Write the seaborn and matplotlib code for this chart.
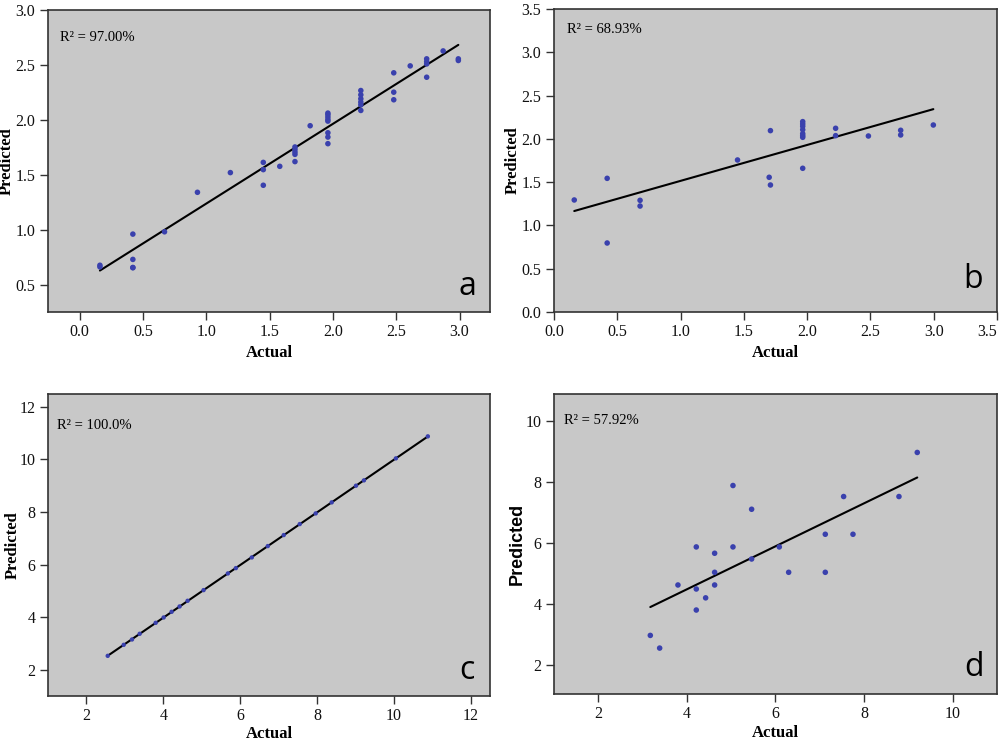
import numpy as np
import pandas as pd
import matplotlib
matplotlib.use("Agg")
import matplotlib.pyplot as plt
import seaborn as sns

# ---- data ----
a_actual = [0.16, 0.16, 0.42, 0.42, 0.42, 0.42, 0.67, 0.93, 1.19, 1.45, 1.45, 1.45, 1.58,
            1.70, 1.70, 1.70, 1.70, 1.70, 1.82, 1.96, 1.96, 1.96, 1.96, 1.96, 1.96, 1.96, 1.96,
            2.22, 2.22, 2.22, 2.22, 2.22, 2.22, 2.48, 2.48, 2.48, 2.61, 2.74, 2.74, 2.74, 2.74,
            2.87, 2.99, 2.99]
a_pred = [0.68, 0.665, 0.963, 0.733, 0.657, 0.66, 0.984, 1.343, 1.522, 1.615, 1.549, 1.407, 1.579,
          1.755, 1.733, 1.709, 1.688, 1.622, 1.948, 2.063, 2.048, 2.027, 2.005, 1.99, 1.884, 1.845, 1.785,
          2.268, 2.229, 2.193, 2.163, 2.138, 2.087, 2.429, 2.253, 2.184, 2.492, 2.556, 2.531, 2.51, 2.389,
          2.628, 2.556, 2.541]

b_actual = [0.16, 0.42, 0.42, 0.68, 0.68, 1.45, 1.71, 1.70, 1.71, 1.965, 1.965, 1.965, 1.965,
            1.965, 1.965, 1.965, 1.965, 2.225, 2.225, 2.484, 2.739, 2.739, 2.997]
b_pred = [1.294, 1.544, 0.797, 1.290, 1.224, 1.756, 2.095, 1.556, 1.467, 2.199, 2.172, 2.145, 2.106,
          2.06, 2.037, 2.018, 1.66, 2.122, 2.037, 2.033, 2.099, 2.045, 2.160]

c_actual = [2.554, 2.970, 3.186, 3.385, 3.801, 4.009, 4.216, 4.424, 4.632, 5.048, 5.680, 5.888,
            6.303, 6.719, 7.134, 7.550, 7.965, 8.381, 9.013, 9.221, 10.052, 10.883]
c_pred = [2.544, 2.962, 3.165, 3.38, 3.797, 4.0, 4.215, 4.418, 4.633, 5.038, 5.671, 5.873,
          6.278, 6.709, 7.127, 7.544, 7.949, 8.367, 9.0, 9.203, 10.038, 10.873]

d_actual = [3.174, 3.385, 3.798, 4.212, 4.212, 4.212, 4.423, 4.626, 4.626, 4.626, 5.04, 5.04,
            5.461, 5.461, 6.086, 6.297, 7.124, 7.124, 7.538, 7.749, 8.787, 9.20]
d_pred = [2.966, 2.549, 4.623, 5.874, 4.491, 3.80, 4.20, 5.666, 5.04, 4.623, 7.892, 5.874,
          7.112, 5.477, 5.874, 5.04, 6.29, 5.04, 7.53, 6.29, 7.53, 8.979]

r2_labels = ["R\u00b2 = 97.00%", "R\u00b2 = 68.93%", "R\u00b2 = 100.0%", "R\u00b2 = 57.92%"]
panel_letters = ["a", "b", "c", "d"]

a_xticks = [0.0, 0.5, 1.0, 1.5, 2.0, 2.5, 3.0]
a_yticks = [0.5, 1.0, 1.5, 2.0, 2.5, 3.0]
b_ticks = [0.0, 0.5, 1.0, 1.5, 2.0, 2.5, 3.0, 3.5]
c_ticks = [2, 4, 6, 8, 10, 12]
d_ticks = [2, 4, 6, 8, 10]

# ---- style ----
sns.set_theme(style="ticks")
plt.rcParams["font.family"] = ["Liberation Serif", "DejaVu Serif"]
plt.rcParams["text.color"] = "black"
plt.rcParams["axes.labelcolor"] = "black"
plt.rcParams["xtick.labelcolor"] = "#111111"
plt.rcParams["ytick.labelcolor"] = "#111111"

BG = "#c8c8c8"
PT = "#3a41ad"
SERIF = "Liberation Serif"

fig = plt.figure(figsize=(10.04, 7.42), dpi=100)

W, H = 1004.0, 742.0
def box(x0, y0, x1, y1):
    return [x0 / W, 1 - y1 / H, (x1 - x0) / W, (y1 - y0) / H]

axa = fig.add_axes(box(48, 10, 490, 312))
axb = fig.add_axes(box(554, 9, 997, 312))
axc = fig.add_axes(box(48, 394, 490, 696))
axd = fig.add_axes(box(554, 394, 997, 694))

panels = [
    (axa, a_actual, a_pred, (-0.25, 3.24), (0.255, 3.0), a_xticks, a_yticks, "{:.1f}", 16),
    (axb, b_actual, b_pred, (0.0, 3.5), (0.0, 3.5), b_ticks, b_ticks, "{:.1f}", 16),
    (axc, c_actual, c_pred, (1.0, 12.5), (1.02, 12.48), c_ticks, c_ticks, "{:d}", 10),
    (axd, d_actual, d_pred, (1.0, 11.0), (1.04, 10.9), d_ticks, d_ticks, "{:d}", 16),
]

txt_pos = [(0.027, 0.91), (0.029, 0.932), (0.021, 0.897), (0.023, 0.91)]
let_pos = [(0.948, 0.083), (0.946, 0.107), (0.947, 0.086), (0.949, 0.088)]
ylab_x = [-0.093, -0.0925, -0.080, -0.082]
xlab_y = [-0.135, -0.134, -0.127, -0.13]

for i, (ax, xs, ys, xl, yl, xt, yt, fmt, ms) in enumerate(panels):
    df = pd.DataFrame({"Actual": xs, "Predicted": ys})
    ax.set_facecolor(BG)
    sns.regplot(data=df, x="Actual", y="Predicted", ax=ax, ci=None,
                scatter_kws=dict(s=ms, color=PT, edgecolors="none", alpha=1, zorder=3),
                line_kws=dict(color="black", lw=1.5, zorder=2))
    ax.set_xlim(*xl)
    ax.set_ylim(*yl)
    ax.set_xticks(xt)
    ax.set_yticks(yt)
    ax.set_xticklabels([fmt.format(v) for v in xt], fontfamily=SERIF, fontsize=11.5)
    ax.set_yticklabels([fmt.format(v) for v in yt], fontfamily=SERIF, fontsize=11.5)
    ax.tick_params(direction="out", length=6, width=1, color="#333333", pad=3)
    for sp in ax.spines.values():
        sp.set_visible(True)
        sp.set_color("#333333")
        sp.set_linewidth(1.2)
    ax.set_xlabel("Actual", fontfamily=SERIF, fontweight="bold", fontsize=12)
    ax.xaxis.set_label_coords(0.5, xlab_y[i])
    ax.xaxis.label.set_va("center")
    if i == 3:
        ax.set_ylabel("Predicted", fontfamily="Liberation Sans", fontweight="bold", fontsize=13)
    else:
        ax.set_ylabel("Predicted", fontfamily=SERIF, fontweight="bold", fontsize=12)
    ax.yaxis.set_label_coords(ylab_x[i], 0.5)
    ax.yaxis.label.set_va("center")
    ax.text(*txt_pos[i], r2_labels[i], transform=ax.transAxes, fontfamily=SERIF,
            fontsize=10.5, ha="left", va="center", color="black")
    ax.text(*let_pos[i], panel_letters[i], transform=ax.transAxes, fontfamily="Open Sans",
            fontsize=23, ha="center", va="center", color="black")

# keep the rightmost tick label of panel b inside the canvas
axb.get_xticklabels()[-1].set_horizontalalignment("right")

fig.savefig("out.png", dpi=100, facecolor="white")
